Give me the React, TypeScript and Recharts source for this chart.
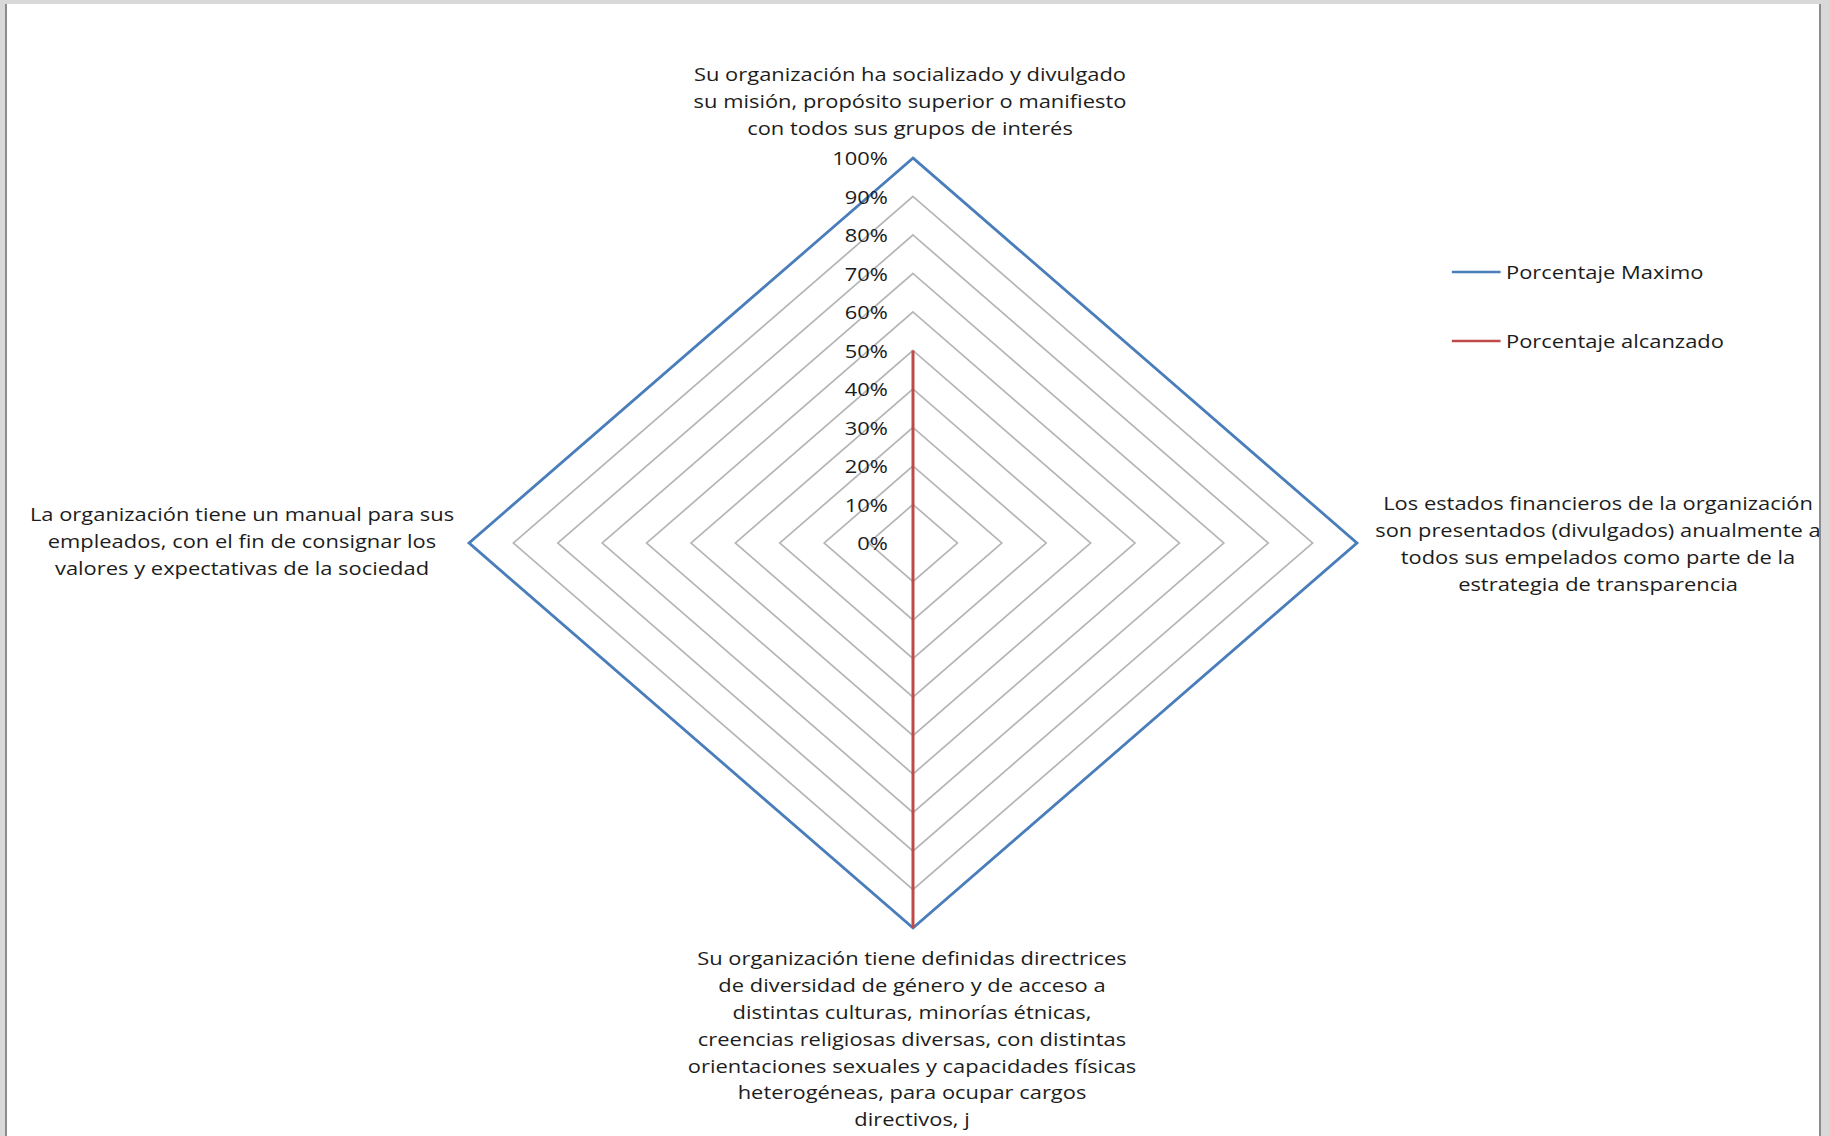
import React from "react";
import {
  Legend,
  PolarAngleAxis,
  PolarGrid,
  PolarRadiusAxis,
  Radar,
  RadarChart,
} from "recharts";

// four questions, clockwise from the top
const categories = [
  "Su organización ha socializado y divulgado\nsu misión, propósito superior o manifiesto\ncon todos sus grupos de interés",
  "Los estados financieros de la organización\nson presentados (divulgados) anualmente a\ntodos sus empelados como parte de la\nestrategia de transparencia",
  "Su organización tiene definidas directrices\nde diversidad de género y de acceso a\ndistintas culturas, minorías étnicas,\ncreencias religiosas diversas, con distintas\norientaciones sexuales y capacidades físicas\nheterogéneas, para ocupar cargos\ndirectivos, j",
  "La organización tiene un manual para sus\nempleados, con el fin de consignar los\nvalores y expectativas de la sociedad",
];
const maxValues = [100, 100, 100, 100];
const reachedValues = [50, 0, 100, 0];
const seriesNames = ["Porcentaje Maximo", "Porcentaje alcanzado"];

const data = categories.map((subject, i) => ({
  subject,
  max: maxValues[i],
  reached: reachedValues[i],
}));

const CX = 913;
const CY = 543;
const R = 385;
const SX = 444 / 385; // the original picture is stretched sideways, text included
const FONT = "'Open Sans', sans-serif";
const LINE = 26.8;

// where each label block sits relative to its vertex (page pixels)
const labelPos = [
  { dx: -3, dy: -84.5 },
  { dx: 241, dy: -40 },
  { dx: -1, dy: 30 },
  { dx: -227, dy: -29 },
];

function AngleTick(props: any) {
  const idx = categories.indexOf(props.payload.value);
  const ang = ((90 - idx * 90) * Math.PI) / 180;
  const vx = CX + R * Math.cos(ang);
  const vy = CY - R * Math.sin(ang);
  const pos = labelPos[idx];
  const lines = String(props.payload.value).split("\n");
  return (
    <g transform={`translate(${vx},${vy})`}>
      {lines.map((ln, i) => (
        <text
          key={i}
          x={pos.dx / SX}
          y={pos.dy + i * LINE}
          textAnchor="middle"
          dominantBaseline="central"
          fontFamily={FONT}
          fontSize={19}
          fill="#1c1c1c"
        >
          {ln}
        </text>
      ))}
    </g>
  );
}

function RadiusTick(props: any) {
  const { x, y, payload } = props;
  return (
    <text
      x={x - 25 / SX}
      y={y}
      textAnchor="end"
      dominantBaseline="central"
      fontFamily={FONT}
      fontSize={19}
      fill="#1c1c1c"
    >
      {payload.value}%
    </text>
  );
}

function LegendBox(props: any) {
  const items = props.payload || [];
  return (
    <div style={{ fontFamily: FONT, fontSize: 19, color: "#1c1c1c" }}>
      {items.map((it: any, i: number) => (
        <div
          key={i}
          style={{
            display: "flex",
            alignItems: "center",
            height: 24,
            marginBottom: 45,
            whiteSpace: "nowrap",
          }}
        >
          <svg width={49 / SX} height={4} style={{ marginRight: 5 / SX }}>
            <line x1={0} y1={2} x2={49 / SX} y2={2} stroke={it.color} strokeWidth={2.6} />
          </svg>
          {it.value}
        </div>
      ))}
    </div>
  );
}

export default function App() {
  return (
    <div
      style={{
        position: "fixed",
        left: 0,
        top: 0,
        width: 1829,
        height: 1136,
        background: "#d9d9d9",
        overflow: "hidden",
      }}
    >
      <div
        style={{
          position: "absolute",
          left: 5,
          top: 4,
          width: 1812,
          height: 1140,
          background: "#fff",
          borderLeft: "2px solid #8c8c8c",
          borderRight: "2px solid #8c8c8c",
          overflow: "hidden",
        }}
      >
        <div
          style={{
            position: "absolute",
            left: -7,
            top: -4,
            width: 1829,
            height: 1136,
            transform: `scaleX(${SX})`,
            transformOrigin: `${CX}px 0px`,
          }}
        >
          <RadarChart
            width={1829}
            height={1136}
            cx={CX}
            cy={CY}
            outerRadius={R}
            data={data}
            margin={{ top: 0, right: 0, bottom: 0, left: 0 }}
          >
            <PolarGrid gridType="polygon" radialLines={false} stroke="#b5b5b5" strokeWidth={1.6} />
            <PolarAngleAxis dataKey="subject" tick={AngleTick} tickLine={false} axisLine={false} />
            <PolarRadiusAxis
              angle={90}
              domain={[0, 100]}
              tickCount={11}
              axisLine={false}
              tick={RadiusTick}
            />
            <Radar
              name={seriesNames[0]}
              dataKey="max"
              stroke="#4a7ebb"
              strokeWidth={2.6}
              fill="none"
              fillOpacity={0}
              dot={false}
              legendType="line"
              isAnimationActive={false}
            />
            <Radar
              name={seriesNames[1]}
              dataKey="reached"
              stroke="#be4b48"
              strokeWidth={2.6}
              fill="none"
              fillOpacity={0}
              dot={false}
              legendType="line"
              isAnimationActive={false}
            />
            <Legend
              layout="vertical"
              align="right"
              verticalAlign="top"
              content={LegendBox}
              wrapperStyle={{
                left: CX + (1452 - CX) / SX,
                top: 260,
                right: "auto",
                width: "auto",
              }}
            />
          </RadarChart>
        </div>
      </div>
    </div>
  );
}
